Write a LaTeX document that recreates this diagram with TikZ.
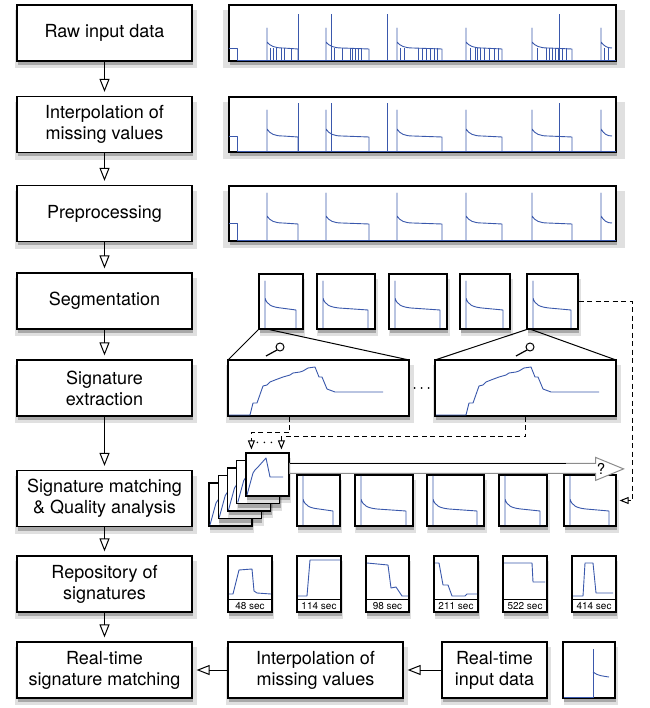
\documentclass[tikz,border=0pt]{standalone}
\usepackage{fontspec}
\setmainfont{TeX Gyre Heros}
\usetikzlibrary{arrows.meta, shadows}
\definecolor{sigblue}{RGB}{58,88,172}
\newcommand{\LabFont}{\fontsize{18}{21}\selectfont}
\newcommand{\TagFont}{\fontsize{10}{10}\selectfont}
\newcommand{\thumbbox}[5]{\node[panel, minimum width={((#4)-(#2))*1pt}, minimum height={((#5)-(#3))*1pt}] (#1) at ({((#2)+(#4))/2},{((#3)+(#5))/2}) {};}
\newcommand{\segsig}[5]{\draw[sig] (#1+6,#4-1) -- (#1+6,#2+#5) -- (#1+6,#2+24) .. controls (#1+8,#2+31) and (#1+13,#2+33) .. (#1+22,#2+34) -- (#3-7,#2+36) -- (#3-7,#4-1);}
\newcommand{\longsig}[4]{%
  \draw[sig] (229,#4) -- (237,#4) -- (237,#1) -- (616,#1);
  \foreach \s/\e in {267/298,326/369,397/442,466/502,532/572}
    \draw[sig] (\s,#1) -- (\s,#2) -- (\s,#3) .. controls (\s+3,#4-2) and (\s+8,#4) .. (\s+16,#4) -- (\e,#4+1) -- (\e,#1);
  \draw[sig] (601,#1) -- (601,#2) -- (601,#3) .. controls (604,#4-2) and (607,#4) .. (612,#4);}
\newcommand{\sigcurve}[2]{\draw[sig] (#1+1,415) -- (250+#2,415) -- (253+#2,403) -- (257+#2,403) -- (263+#2,386) -- (267+#2,385) -- (270+#2,382) -- (275+#2,380) -- (283+#2,377) -- (290+#2,375) -- (293+#2,373) -- (300+#2,372) -- (303+#2,371) -- (308+#2,368) -- (315+#2,367) -- (319+#2,377) -- (322+#2,377) -- (327+#2,389) -- (335+#2,392) -- (383+#2,392);}
\newcommand{\minisig}[2]{\draw[sig, shift={(#1,#2)}] (247,495) -- (253,473) -- (255,470) -- (258,467) -- (266,458) -- (270,477) -- (283,477);}
\newcommand{\lens}[2]{\draw[line width=1pt] (#1,#2) circle (4pt); \draw[line width=1.2pt] (#1-3,#2+3) -- (#1-14,#2+9);}
\newcommand{\repothumb}[5]{\thumbbox{#1}{#2}{556}{#3}{612} \draw[line width=1pt] (#2,599) -- (#3,599); \node[font=\TagFont, inner sep=0] at ({((#2)+(#3))/2},606) {#4}; \draw[sig] #5;}

\begin{document}
\begin{tikzpicture}[x=1pt, y=-1pt, >={Triangle[open,length=13pt,width=10pt]},
  shade/.style={drop shadow={shadow xshift=1.5pt, shadow yshift=-6pt, shadow scale=1.04, fill=black, opacity=0.12},
                drop shadow={shadow xshift=1pt, shadow yshift=-4pt, fill=black, opacity=0.25}},
  stage/.style={draw, fill=white, line width=1.2pt, minimum width=175pt, minimum height=56pt, inner sep=0, align=center, font=\LabFont, shade},
  panel/.style={draw, fill=white, line width=1.2pt, inner sep=0, shade},
  sig/.style={sigblue, line width=0.9pt, line join=round},
  flow/.style={->, line width=1pt, shorten >=4pt},
  link/.style={dashed, dash pattern=on 5pt off 3.5pt, line width=1pt, shorten >=3pt, -{Triangle[open,length=9pt,width=7pt]}},
  dots/.style={line width=1.8pt, line cap=round, dash pattern=on 0pt off 7pt, shorten <=5pt, shorten >=5pt},
  zoomline/.style={line width=1pt}]
  \useasboundingbox (0,0) rectangle (649,708);

  \node[stage] (raw)      at (104.5,33)  {Raw input data};
  \node[stage] (interp)   at (104.5,124.5) {Interpolation of\\missing values};
  \node[stage] (prep)     at (104.5,213.5) {Preprocessing};
  \node[stage] (seg)      at (104.5,301) {Segmentation};
  \node[stage] (sigext)   at (104.5,388) {Signature\\extraction};
  \node[stage] (sigmatch) at (104.5,498.5) {Signature matching\\\& Quality analysis};
  \node[stage] (repo)     at (104.5,584) {Repository of\\signatures};
  \node[stage] (rtmatch)  at (104.5,670) {Real-time\\signature matching};
  \node[stage] (interp2)  at (315.5,670) {Interpolation of\\missing values};
  \node[stage, minimum width=105pt] (rtinput) at (494.5,670) {Real-time\\input data};

  \foreach \a/\b in {raw/interp, interp/prep, prep/seg, seg/sigext, sigext/sigmatch, sigmatch/repo, repo/rtmatch}
    \draw[flow] (\a) -- (\b);
  \draw[flow] (rtinput) -- (interp2);
  \draw[flow] (interp2) -- (rtmatch);

  % raw, interpolated and preprocessed signal
  \thumbbox{rawplot}{229}{5}{616}{61}
  \longsig{60}{28}{42}{48}
  \foreach \x in {270,273,276,281,284,291,334,342,350,352,355,358,361,400,404,418,422,426,430,434,437,470,475,477,480,484,489,494,498,537,546,549,552,555,558,562,566,604,608}
    \draw[sig] (\x,48) -- (\x,60);
  \foreach \tx in {298,331,387,559}
    \draw[sig] (\tx,60) -- (\tx,14);
  \thumbbox{interpplot}{229}{97}{616}{152}
  \longsig{151}{110}{129}{136}
  \foreach \tx in {298,331,387,559}
    \draw[sig] (\tx,151) -- (\tx,103);
  \thumbbox{prepplot}{229}{186}{616}{241}
  \longsig{240}{193}{216}{223}

  % segments
  \foreach \n/\a/\b in {1/259/303, 2/317/375, 3/389/447, 4/460/510, 5/527/578} {
    \thumbbox{seg\n}{\a}{274}{\b}{329}
    \segsig{\a}{274}{\b}{329}{7}
  }
  \draw[zoomline] (seg1.south west) -- (228,360);
  \draw[zoomline] ([xshift=11pt]seg1.south west) -- (409,360);
  \draw[zoomline] (seg5.south west) -- (435,360);
  \draw[zoomline] ([xshift=5pt]seg5.south west) -- (616,360);
  \lens{280}{347}
  \lens{530}{347}
  \thumbbox{zoomL}{228}{360}{409}{416}
  \sigcurve{228}{0}
  \thumbbox{zoomR}{435}{360}{616}{416}
  \sigcurve{435}{216}
  \draw[dots] (zoomL) -- (zoomR);

  % matching
  \foreach \n/\a/\b in {1/297/340, 2/355/413, 3/427/484, 4/499/547, 5/564/616} {
    \thumbbox{mbox\n}{\a}{475}{\b}{526}
    \segsig{\a}{475}{\b}{526}{1}
  }
  \foreach \i in {4,3,2,1} {
    \thumbbox{stack\i}{246-9.25*\i}{453+7.5*\i}{289-9.25*\i}{496+7.5*\i}
    \minisig{-9.25*\i}{7.5*\i}
  }
  \thumbbox{front}{246}{453}{289}{496}
  \minisig{0}{0}
  \filldraw[fill=white, draw=black!45, line width=1pt] ([yshift=-11pt]front.north east) -- ++(306,0) -- ++(0,-6) -- ++(28,11.5) -- ++(-28,11.5) -- ++(0,-7) -- ++(-306,0) -- cycle;
  \draw[line width=1.3pt] ([yshift=-11pt]front.north east) -- ++(276,0);
  \node[font=\fontsize{15}{15}\selectfont, inner sep=0] (query) at (601,469) {?};

  \draw[link] (zoomL.south -| front.east) -- ++(0,16) -| ([xshift=6pt]front.north west);
  \draw[link] (zoomR.south) -- ++(0,20) -| ([xshift=36pt]front.north west);
  \draw[dots, shorten <=0pt, shorten >=0pt] ([xshift=12pt,yshift=10pt]front.north west) -- ([xshift=30pt,yshift=10pt]front.north west);
  \draw[link] (seg5.east) -- ++(54,0) |- (mbox5.east);

  % repository
  \repothumb{rep1}{228}{272}{48 sec}{(229,594) -- (233,594) -- (239,570) -- (252,569) -- (254,591) -- (257,593) -- (271,594)}
  \repothumb{rep2}{297}{341}{114 sec}{(298,596) -- (307,596) -- (310,560) -- (340,560)}
  \repothumb{rep3}{366}{409}{98 sec}{(367,563) -- (388,565) -- (391,588) -- (396,587) -- (402,596) -- (408,596)}
  \repothumb{rep4}{434}{478}{211 sec}{(435,563) -- (439,563) -- (443,585) -- (448,585) -- (452,596) -- (465,596) -- (467,594) -- (477,594)}
  \repothumb{rep5}{503}{547}{522 sec}{(504,563) -- (532,563) -- (533,582) -- (545,582)}
  \repothumb{rep6}{572}{616}{414 sec}{(573,596) -- (583,596) -- (585,563) -- (593,563) -- (596,593) -- (613,593)}

  % real-time input
  \thumbbox{rtplot}{563}{642}{615}{698}
  \draw[sig] (564,697) -- (593,697) -- (593,649);
  \draw[sig] (593,672) .. controls (598,676) and (603,676) .. (609,677);
\end{tikzpicture}
\end{document}
